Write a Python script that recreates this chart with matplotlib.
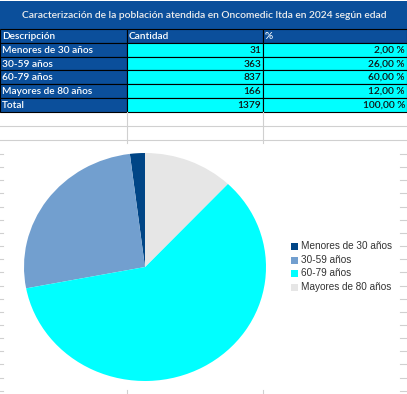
import numpy as np
import matplotlib.pyplot as plt
from matplotlib.patches import Rectangle

# datos de la tabla
titulo = 'Caracterización de la población atendida en Oncomedic ltda en 2024 según edad'
encabezados = ['Descripción', 'Cantidad', '%']
categorias = ['Menores de 30 años', '30-59 años', '60-79 años', 'Mayores de 80 años']
cantidad = [31, 363, 837, 166]
porcentaje = [2.0, 26.0, 60.0, 12.0]
total_cantidad = 1379
total_porcentaje = 100.0

colores = ['#004586', '#729fcf', '#00ffff', '#e6e6e6']
azul = '#0b4f9b'
cian = '#00ffff'
gris = '#d0d0d0'

W, H = 407, 394
fig = plt.figure(figsize=(W / 100, H / 100), dpi=100)

# capa de fondo en pixeles (hoja de calculo)
bg = fig.add_axes([0, 0, 1, 1])
bg.set_xlim(0, W)
bg.set_ylim(H, 0)
bg.axis('off')

cols = [0, 127, 263, 407]
filas = [29, 43, 57, 70, 84, 98, 112]

def fmt_pct(v):
    return f'{v:.2f}'.replace('.', ',') + ' %'

fuente = dict(family=['Lato', 'DejaVu Sans'], fontsize=7.3, fontweight='semibold')

# fila del titulo
bg.add_patch(Rectangle((0, 1), W, filas[0] - 1, facecolor=azul, edgecolor='none'))
bg.text(204, 15, titulo, color='#eeeeee', ha='center', va='center',
        family=['Lato', 'DejaVu Sans'], fontsize=7.35, fontweight='semibold')

# encabezado y filas
textos = [encabezados] + [[c, str(q), fmt_pct(p)] for c, q, p in zip(categorias, cantidad, porcentaje)]
textos.append(['Total', str(total_cantidad), fmt_pct(total_porcentaje)])
for i, fila in enumerate(textos):
    y0, y1 = filas[i], filas[i + 1]
    for j in range(3):
        x0, x1 = cols[j], cols[j + 1]
        fc = azul if (i == 0 or j == 0) else cian
        bg.add_patch(Rectangle((x0, y0), x1 - x0, y1 - y0, facecolor=fc,
                               edgecolor='black', linewidth=0.8))
        yc = (y0 + y1) / 2 + 0.5
        if i == 0 or j == 0:
            bg.text(x0 + 2, yc, fila[j], color='white', ha='left', va='center', **fuente)
        else:
            bg.text(x1 - 2, yc, fila[j], color='#111111', ha='right', va='center', **fuente)

# lineas de cuadricula bajo la tabla
for y in [126, 140]:
    bg.plot([0, W], [y, y], color=gris, lw=0.8)
for x in [127, 263]:
    bg.plot([x, x], [112, 143], color=gris, lw=0.8)
    bg.plot([x, x], [390, H], color=gris, lw=0.8)
for y in np.arange(154, H, 13.15):
    bg.plot([0, 3], [y, y], color=gris, lw=0.8)
    bg.plot([400, W], [y, y], color=gris, lw=0.8)

# grafico circular
pie_ax = fig.add_axes([24 / W, 13 / H, 242 / W, 228 / H])
pie_ax.pie(porcentaje, colors=colores, startangle=90, counterclock=True,
           wedgeprops=dict(linewidth=0))
pie_ax.set_aspect('auto')
pie_ax.set_xlim(-1, 1)
pie_ax.set_ylim(-1, 1)

# leyenda
ley_y = [246, 260, 273, 287]
for c, col, y in zip(categorias, colores, ley_y):
    bg.add_patch(Rectangle((291, y - 3.5), 7, 7, facecolor=col, edgecolor='none'))
    bg.text(301, y, c, color='#333333', ha='left', va='center',
            family=['Liberation Sans', 'DejaVu Sans'], fontsize=7.2)

fig.savefig('out.png', dpi=100)
